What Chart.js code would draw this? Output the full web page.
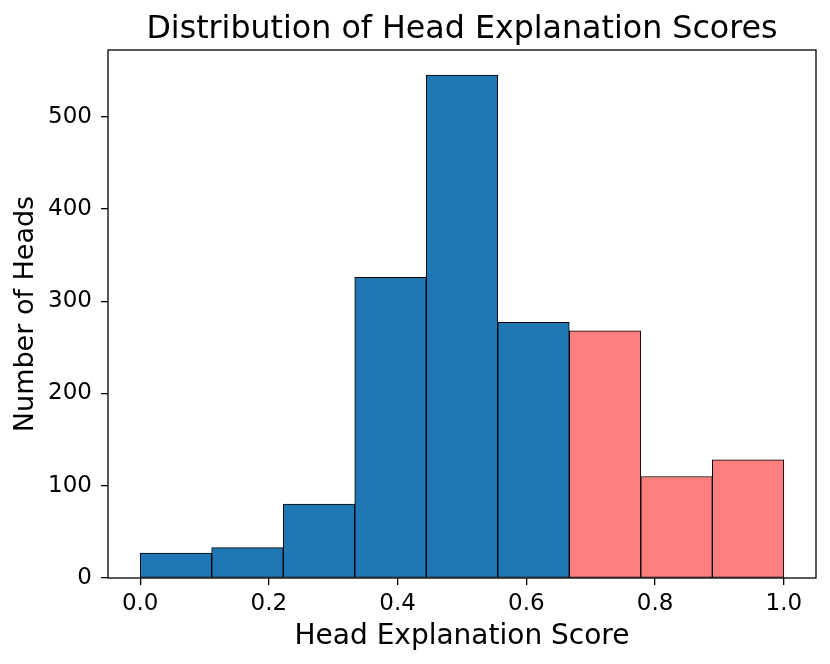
<!DOCTYPE html>
<html>
<head>
<meta charset="utf-8">
<script src="https://cdn.jsdelivr.net/npm/chart.js@4"></script>
<style>
  body{margin:0;background:#fff;}
  #wrap{width:830px;height:664px;}
</style>
</head>
<body>
<div id="wrap"><canvas id="histChart" width="830" height="664"></canvas></div>
<script>
// ================= DATA =================
const binEdges = [0, 1/9, 2/9, 3/9, 4/9, 5/9, 6/9, 7/9, 8/9, 1];
const headCounts = [27, 33, 80, 326, 545, 277, 268, 110, 128];
const highScore = [false, false, false, false, false, false, true, true, true];
const xTicks = [0, 0.2, 0.4, 0.6, 0.8, 1.0];
const yTicks = [0, 100, 200, 300, 400, 500];
const chartTitle = "Distribution of Head Explanation Scores";

const FONT = "'DejaVu Sans', sans-serif";

// box round the plot area + title centred over it
const frame = {
  id: "frame",
  afterDatasetsDraw(chart){
    const {ctx, chartArea:a} = chart;
    ctx.save();
    ctx.strokeStyle = "#000";
    ctx.lineWidth = 1.3;
    ctx.strokeRect(a.left, a.top, a.right - a.left, a.bottom - a.top);
    ctx.fillStyle = "#000";
    ctx.font = "31.7px " + FONT;
    ctx.textAlign = "center";
    ctx.textBaseline = "alphabetic";
    ctx.fillText(chartTitle, (a.left + a.right) / 2, 38);
    ctx.restore();
  }
};

// ================= CHART =================
new Chart(histChart, {
  type: "bar",
  data: {
    datasets: [{
      data: headCounts.map((c, i) => ({x: (binEdges[i] + binEdges[i+1]) / 2, y: c})),
      backgroundColor: highScore.map(h => h ? "#ff7f7f" : "#1f77b4"),
      borderColor: "#000",
      borderWidth: 1,
      borderSkipped: false,
      barPercentage: 1,
      categoryPercentage: 1
    }]
  },
  options: {
    responsive: false,
    animation: false,
    layout: {padding: {left: 0, right: 14, top: 50, bottom: 0}},
    plugins: {
      legend: {display: false},
      tooltip: {enabled: false}
    },
    scales: {
      x: {
        type: "linear",
        offset: false,
        min: -0.05,
        max: 1.05,
        afterBuildTicks: s => { s.ticks = xTicks.map(v => ({value: v})); },
        afterFit: s => { s.height = 86; },
        ticks: {
          color: "#000",
          font: {family: FONT, size: 23},
          padding: 5,
          autoSkip: false,
          maxRotation: 0,
          callback: v => v.toFixed(1)
        },
        grid: {offset: false, drawOnChartArea: false, drawTicks: true, tickLength: 7, color: "#000", lineWidth: 1.3},
        border: {display: false},
        title: {
          display: true,
          text: "Head Explanation Score",
          color: "#000",
          font: {family: FONT, size: 28},
          padding: {top: 0, bottom: 10}
        }
      },
      y: {
        min: 0,
        max: 572.25,
        afterBuildTicks: s => { s.ticks = yTicks.map(v => ({value: v})); },
        afterFit: s => { s.width = 108; },
        ticks: {
          color: "#000",
          font: {family: FONT, size: 23},
          padding: 9
        },
        grid: {drawOnChartArea: false, drawTicks: true, tickLength: 7, color: "#000", lineWidth: 1.3},
        border: {display: false},
        title: {
          display: true,
          text: "Number of Heads",
          color: "#000",
          font: {family: FONT, size: 27},
          padding: {top: 10, bottom: 0}
        }
      }
    }
  },
  plugins: [frame]
});
</script>
</body>
</html>
